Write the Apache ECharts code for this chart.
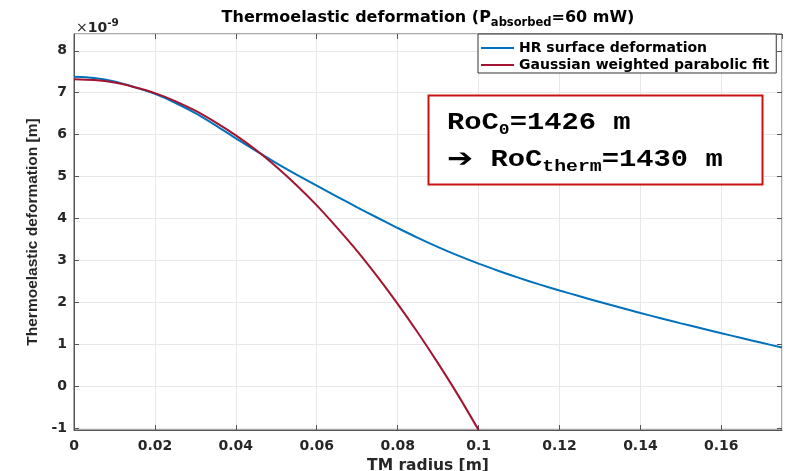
<!DOCTYPE html>
<html>
<head>
<meta charset="utf-8">
<script src="https://cdn.jsdelivr.net/npm/echarts@6/dist/echarts.min.js"></script>
<style>
html,body{margin:0;padding:0;background:#fff;}
#chart{width:792px;height:471px;}
</style>
</head>
<body>
<div id="chart"></div>
<script>
// Data in units of 1e-9 m
const radiusHR = [0,0.005,0.01,0.015,0.02,0.025,0.03,0.035,0.04,0.045,0.05,0.055,0.06,0.065,0.07,0.075,0.08,0.085,0.09,0.095,0.1,0.105,0.11,0.115,0.12,0.125,0.13,0.135,0.14,0.145,0.15,0.155,0.16,0.165,0.17,0.175];
const deformHR = [7.38,7.35,7.27,7.13,6.97,6.76,6.51,6.22,5.91,5.61,5.32,5.045,4.78,4.52,4.265,4.015,3.77,3.535,3.315,3.11,2.92,2.745,2.58,2.425,2.28,2.14,2.005,1.872,1.742,1.617,1.495,1.377,1.26,1.144,1.03,0.918];
const radiusFit = [0,0.005,0.01,0.015,0.02,0.025,0.03,0.035,0.04,0.045,0.05,0.055,0.06,0.065,0.07,0.075,0.08,0.085,0.09,0.095,0.1];
const deformFit = [7.32,7.30,7.24,7.13,6.99,6.80,6.57,6.29,5.98,5.63,5.23,4.79,4.31,3.78,3.22,2.61,1.96,1.27,0.54,-0.23,-1.05];
const seriesNames = ['HR surface deformation','Gaussian weighted parabolic fit'];

const SANS = 'DejaVu Sans';
const MONO = 'Liberation Mono';
const chart = echarts.init(document.getElementById('chart'), null, {renderer:'canvas'});

const labelStyle = {color:'#262626', fontFamily:SANS, fontWeight:'bold', fontSize:14};
const axisColor = '#555';
const tickStyle = {show:true, inside:true, length:5, lineStyle:{color:axisColor}};

const option = {
  animation:false,
  backgroundColor:'#fff',
  grid:{left:74, right:10, top:34, bottom:41, containLabel:false, outerBoundsMode:'none',
        show:true, borderColor:axisColor, borderWidth:1, backgroundColor:'#fff'},
  xAxis:[{
    type:'value', min:0, max:0.175, interval:0.02,
    name:'TM radius [m]', nameLocation:'middle', nameGap:26,
    nameTextStyle:{color:'#262626', fontFamily:SANS, fontWeight:'bold', fontSize:15.5},
    axisLine:{show:true, onZero:false, lineStyle:{color:axisColor}},
    axisTick:tickStyle,
    axisLabel:Object.assign({margin:9, showMaxLabel:false, formatter:v=>String(+v.toFixed(3))}, labelStyle),
    splitLine:{show:true, lineStyle:{color:'#e8e8e8'}}
  },{
    type:'value', min:0, max:0.175, interval:0.02, position:'top',
    axisLine:{show:false, onZero:false}, axisTick:tickStyle,
    axisLabel:{show:false}, splitLine:{show:false}
  }],
  yAxis:[{
    type:'value', min:-1.05, max:8.4, splitNumber:9,
    name:'Thermoelastic deformation [m]', nameLocation:'middle', nameGap:29,
    nameTextStyle:{color:'#262626', fontFamily:'Liberation Sans', fontWeight:'bold', fontSize:15.5},
    axisLine:{show:true, onZero:false, lineStyle:{color:axisColor}},
    axisTick:tickStyle,
    axisLabel:Object.assign({margin:7, showMinLabel:false, showMaxLabel:false}, labelStyle),
    splitLine:{show:true, lineStyle:{color:'#e8e8e8'}}
  },{
    type:'value', min:-1.05, max:8.4, splitNumber:9, position:'right',
    axisLine:{show:false, onZero:false}, axisTick:tickStyle,
    axisLabel:{show:false}, splitLine:{show:false}
  }],
  legend:{
    orient:'vertical', left:478, top:34,
    backgroundColor:'#fff', borderColor:'#333', borderWidth:1,
    padding:[7,7,1,3], itemGap:3, itemWidth:33, itemHeight:2, icon:'rect',
    textStyle:{color:'#000', fontFamily:SANS, fontWeight:'bold', fontSize:14, lineHeight:14},
    data:seriesNames
  },
  series:[{
    name:seriesNames[0], type:'line', showSymbol:false, smooth:0.3,
    color:'#0072BD', lineStyle:{width:2, color:'#0072BD'},
    data:radiusHR.map((x,i)=>[x, deformHR[i]]), z:3
  },{
    name:seriesNames[1], type:'line', showSymbol:false, smooth:0.3,
    color:'#A2142F', lineStyle:{width:2, color:'#A2142F'},
    data:radiusFit.map((x,i)=>[x, deformFit[i]]), z:4
  }],
  graphic:[
    {type:'text', x:428, y:9.5, z:10, style:{
      text:'{b|Thermoelastic deformation (P}{s|absorbed}{b|=60 mW)}',
      align:'center', verticalAlign:'top',
      rich:{
        b:{fontFamily:SANS, fontWeight:'bold', fontSize:16, fill:'#000', color:'#000'},
        s:{fontFamily:SANS, fontWeight:'bold', fontSize:11.5, lineHeight:12, padding:[12,0,0,0], fill:'#000', color:'#000'}
      }}},
    {type:'text', x:76, y:21, z:10, style:{
      text:'{x|×}{b|10}{s|-9}',
      align:'left', verticalAlign:'top',
      rich:{
        x:{fontFamily:SANS, fontSize:14, fill:'#262626', color:'#262626'},
        b:{fontFamily:SANS, fontWeight:'bold', fontSize:14, fill:'#262626', color:'#262626'},
        s:{fontFamily:SANS, fontWeight:'bold', fontSize:10.5, lineHeight:10, padding:[0,0,10,0], fill:'#262626', color:'#262626'}
      }}},
    {type:'rect', z:10, shape:{x:428.5, y:95.5, width:334, height:89},
      style:{fill:'#fff', stroke:'#cc1111', lineWidth:2}},
    {type:'text', x:447, y:111, scaleX:1.2, z:11, style:{
      text:'{b|RoC}{s|0}{b|=1426 m}', align:'left', verticalAlign:'top',
      rich:{
        b:{fontFamily:MONO, fontWeight:'bold', fontSize:24, fill:'#000', color:'#000'},
        s:{fontFamily:MONO, fontWeight:'bold', fontSize:15, lineHeight:15, padding:[14,0,0,0], fill:'#000', color:'#000'}
      }}},
    {type:'text', x:447, y:147, scaleX:1.2, z:11, style:{
      text:'{a|➔}{b| RoC}{s|therm}{b|=1430 m}', align:'left', verticalAlign:'top',
      rich:{
        a:{fontFamily:SANS, fontWeight:'bold', fontSize:26, fill:'#000', color:'#000'},
        b:{fontFamily:MONO, fontWeight:'bold', fontSize:24, fill:'#000', color:'#000'},
        s:{fontFamily:MONO, fontWeight:'bold', fontSize:16.5, lineHeight:15, padding:[14,0,0,0], fill:'#000', color:'#000'}
      }}}
  ]
};
chart.setOption(option);
</script>
</body>
</html>
